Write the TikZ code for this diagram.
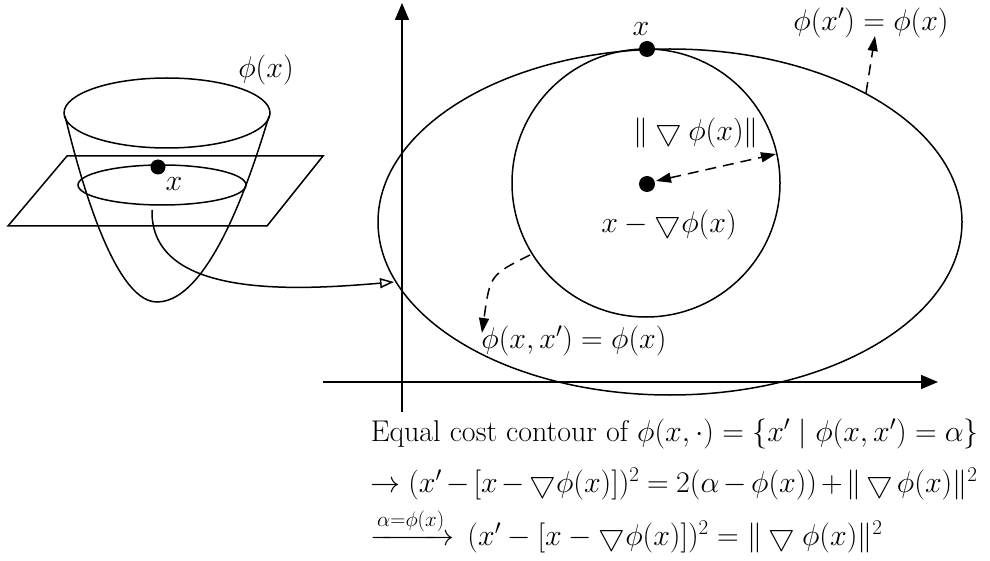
\RequirePackage{fix-cm}
\documentclass[tikz,border=0pt]{standalone}
\usepackage{amsmath}
\usetikzlibrary{arrows.meta}
\begin{document}
\begin{tikzpicture}[x=1pt,y=-1pt,line width=1.5pt,
  font=\fontsize{30}{36}\selectfont,
  dot/.style={circle,fill=black,inner sep=0pt,minimum size=16pt},
  lbl/.style={inner sep=0pt},
  axis/.style={-{Triangle[length=17pt,width=14pt]}},
  dasharrow/.style={dash pattern=on 11pt off 7pt,-{Triangle[length=15pt,width=10pt]}},
  openarrow/.style={-{Triangle[open,length=14pt,width=10pt,fill=white]}}]
\useasboundingbox (0,0) rectangle (990,561);
% ---------- left bowl ----------
\draw (167,113) ellipse [x radius=103, y radius=35];
\draw (65,116) parabola bend (157,302) (269,116);
\draw (67,156) -- (323,156) -- (267,226) -- (8,226) -- cycle;
\draw (162,185) ellipse [x radius=84, y radius=20];
\node[dot,minimum size=15pt] (xl) at (158,167) {};
\node[lbl] (xllab) at (174,184) {$x$};
\node[lbl] (philab) at (266,70) {$\phi(x)$};
\coordinate (cstart) at (152,210);
% ---------- axes ----------
\coordinate (xa0) at (323,382);
\coordinate (xa1) at (938,382);
\coordinate (ya0) at (402,412);
\coordinate (ya1) at (402,3);
\draw[axis] (xa0) -- (xa1);
\draw[axis] (ya0) -- (ya1);
% ---------- contours ----------
\draw (670,222) ellipse [x radius=292, y radius=173];
\draw (646,183) circle [radius=134];
\coordinate (cend) at (394,282);
\draw[openarrow] (cstart) .. controls (150,300) and (300,290) .. (cend);
\node[dot] (xt) at (647,49) {};
\node[lbl] (xtlab) at (641,29) {$x$};
\node[dot] (xc) at (647,184) {};
\node[lbl] (xclab) at (669,225) {$x-\bigtriangledown\phi(x)$};
\coordinate (cr) at (776,154);
\draw[dasharrow,{Triangle[length=15pt,width=10pt]}-{Triangle[length=15pt,width=10pt]}] (xc.center) ++(9,-3) -- (cr);
\node[lbl] (normlab) at (696,133) {$\|\bigtriangledown\phi(x)\|$};
\coordinate (el) at (866,93);
\coordinate (eltip) at (875,36);
\draw[dasharrow] (el) -- (eltip);
\node[lbl] (ellab) at (871,23) {$\phi(x')=\phi(x)$};
\coordinate (cl) at (530,255);
\coordinate (cltip) at (482,333);
\draw[dasharrow] (cl) .. controls (490,275) .. (cltip);
\node[lbl] (cllab) at (574,341) {$\phi(x,x')=\phi(x)$};
% ---------- text ----------
\node[lbl,anchor=base west] (t1) at (370,441) {Equal cost contour of $\phi(x,\cdot)=\{x'\mid\phi(x,x')=\alpha\}$};
\node[lbl,anchor=base west] (t2) at (370,492) {\medmuskip=2.5mu\thickmuskip=4.5mu$\rightarrow(x'-[x-\bigtriangledown\phi(x)])^2=2(\alpha-\phi(x))+\|\bigtriangledown\phi(x)\|^2$};
\node[lbl,anchor=base west] (t3) at (370,545) {$\xrightarrow{\alpha=\phi(x)}\,(x'-[x-\bigtriangledown\phi(x)])^2=\|\bigtriangledown\phi(x)\|^2$};
\end{tikzpicture}
\end{document}
